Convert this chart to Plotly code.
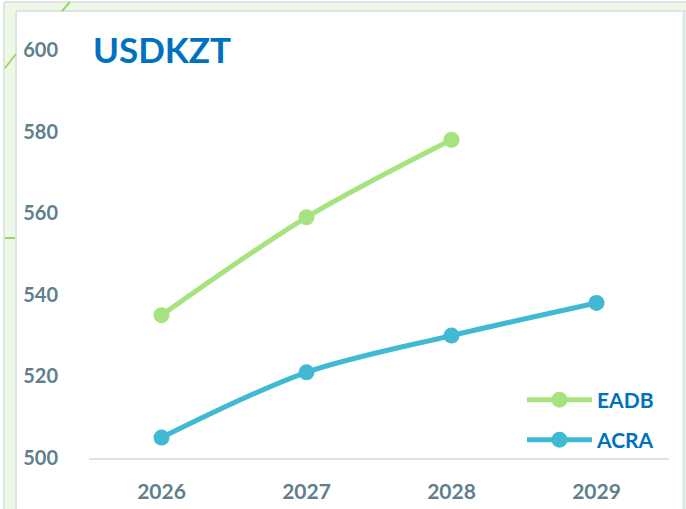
import plotly.graph_objects as go

years = ["2026", "2027", "2028", "2029"]
eadb = [535, 559, 578, None]
acra = [505, 521, 530, 538]
y_ticks = [500, 520, 540, 560, 580, 600]

W, H = 686, 509
L, R, T, B = 89, 17, 50, 51
PW, PH = W - L - R, H - T - B

def px(x):
    return (x - L) / PW

def py(y):
    return 1 - (y - T) / PH

label_col = "#5F7F8C"
blue = "#0070C0"
green = "#A6E37F"
teal = "#3FBAD2"

fig = go.Figure()
fig.add_trace(go.Scatter(x=years, y=eadb, name="EADB", mode="lines+markers", legend="legend",
                         line=dict(color=green, width=5, shape="spline", smoothing=0.9),
                         marker=dict(size=16, color=green)))
fig.add_trace(go.Scatter(x=years, y=acra, name="ACRA", mode="lines+markers", legend="legend2",
                         line=dict(color=teal, width=5, shape="spline", smoothing=0.9),
                         marker=dict(size=16, color=teal)))

shapes = []
shapes.append(dict(type="rect", xref="paper", yref="paper", x0=px(4), x1=px(16), y0=py(H), y1=py(2),
                   fillcolor="#EEF8E6", line=dict(width=0), layer="below"))
shapes.append(dict(type="rect", xref="paper", yref="paper", x0=px(4), x1=px(W), y0=py(11), y1=py(2),
                   fillcolor="#EEF8E6", line=dict(width=0), layer="below"))
for x in (4, 16):
    shapes.append(dict(type="line", xref="paper", yref="paper", x0=px(x), x1=px(x), y0=py(H), y1=py(2 if x == 4 else 11),
                       line=dict(color="#DCE4E6", width=2)))
for y in (2, 11):
    shapes.append(dict(type="line", xref="paper", yref="paper", x0=px(4 if y == 2 else 16), x1=px(W), y0=py(y), y1=py(y),
                       line=dict(color="#DCE4E6", width=2)))
shapes.append(dict(type="line", xref="paper", yref="paper", x0=px(684), x1=px(684), y0=py(H), y1=py(11),
                   line=dict(color="#DCE4E6", width=3)))
shapes.append(dict(type="line", xref="paper", yref="paper", x0=px(5), x1=px(16), y0=py(68), y1=py(54),
                   line=dict(color="#9ED36A", width=2)))
shapes.append(dict(type="line", xref="paper", yref="paper", x0=px(62), x1=px(70), y0=py(11), y1=py(2),
                   line=dict(color="#9ED36A", width=2)))
shapes.append(dict(type="line", xref="paper", yref="paper", x0=px(5), x1=px(15), y0=py(238), y1=py(238),
                   line=dict(color="#9ED36A", width=2)))

legend_common = dict(xanchor="left", yanchor="middle", bgcolor="rgba(0,0,0,0)", itemwidth=65,
                     font=dict(size=21, color=blue, family="Lato", weight="bold"))

fig.update_layout(
    width=W, height=H,
    margin=dict(l=L, r=R, t=T, b=B, autoexpand=False),
    paper_bgcolor="white", plot_bgcolor="white",
    font=dict(family="Lato", color=label_col),
    shapes=shapes,
    annotations=[dict(text="<b>USDKZT</b>", xref="paper", yref="paper", x=px(91), y=py(26),
                      xanchor="left", yanchor="top", showarrow=False,
                      font=dict(size=35, color=blue, family="Lato"))],
    showlegend=True,
    legend=dict(x=px(522), y=py(400), **legend_common),
    legend2=dict(x=px(522), y=py(440), **legend_common),
    xaxis=dict(type="category", range=[-0.5, 3.5], showgrid=False, zeroline=False, automargin=False,
               showline=True, linecolor="#DDE3E8", linewidth=2,
               ticks="outside", ticklen=14, tickcolor="rgba(0,0,0,0)",
               tickfont=dict(size=21, color=label_col, weight="bold")),
    yaxis=dict(range=[500, 600], tickvals=y_ticks, showgrid=False, zeroline=False, automargin=False,
               showline=False, ticks="outside", ticklen=26, tickcolor="rgba(0,0,0,0)",
               tickfont=dict(size=20, color=label_col, weight="bold")),
)

fig.write_html("out.html", config={"displayModeBar": False},
               post_script="document.body.style.margin='0';")
